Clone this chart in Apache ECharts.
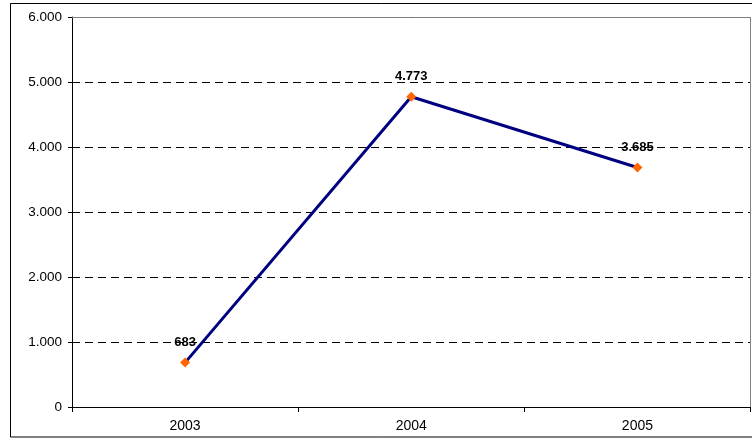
<!DOCTYPE html>
<html>
<head>
<meta charset="utf-8">
<script src="https://cdn.jsdelivr.net/npm/echarts@6/dist/echarts.min.js"></script>
<style>
  html, body { margin: 0; padding: 0; background: #fff; }
  #chart { width: 752px; height: 441px; }
</style>
</head>
<body>
<div id="chart"></div>
<script>
// Yearly totals
const years = ['2003', '2004', '2005'];
const totals = [683, 4773, 3685];
const yTicks = [0, 1000, 2000, 3000, 4000, 5000, 6000];

// Thousands separator in dotted style: 4773 -> "4.773"
function fmt(v) {
  return String(Math.round(v)).replace(/\B(?=(\d{3})+(?!\d))/g, '.');
}

const chart = echarts.init(document.getElementById('chart'), null, { renderer: 'canvas' });
const font = 'Liberation Sans, Arial, sans-serif';

chart.setOption({
  animation: false,
  backgroundColor: '#ffffff',
  graphic: [
    {
      type: 'rect',
      shape: { x: 10.5, y: 3.5, width: 760, height: 433.5 },
      style: { fill: 'none', stroke: '#000', lineWidth: 1 },
      silent: true,
      z: -1
    },
    {
      // plot frame: top and right edges
      type: 'polyline',
      shape: { points: [[72, 17.5], [750.5, 17.5], [750.5, 407]] },
      style: { stroke: '#808080', lineWidth: 1, fill: 'none' },
      silent: true,
      z: 100
    }
  ],
  grid: { left: 72, top: 17, width: 678.5, height: 390, containLabel: false },
  xAxis: {
    type: 'category',
    data: years,
    boundaryGap: true,
    axisLine: { show: true, lineStyle: { color: '#000', width: 1 } },
    axisTick: { show: true, length: 5, interval: 0, alignWithLabel: false, lineStyle: { color: '#000' } },
    axisLabel: { color: '#000', fontFamily: font, fontSize: 14, margin: 12 },
    splitLine: { show: false }
  },
  yAxis: {
    type: 'value',
    min: yTicks[0],
    max: yTicks[yTicks.length - 1],
    interval: 1000,
    axisLine: { show: true, lineStyle: { color: '#000', width: 1 } },
    axisTick: { show: true, length: 4, lineStyle: { color: '#000' } },
    axisLabel: { color: '#000', fontFamily: font, fontSize: 13.5, margin: 10, formatter: fmt },
    splitLine: {
      show: true,
      lineStyle: { color: '#000', width: 1, type: [8, 5] }
    }
  },
  series: [{
    type: 'line',
    data: totals,
    symbol: 'diamond',
    symbolSize: 10,
    showAllSymbol: true,
    lineStyle: { color: '#000080', width: 3 },
    itemStyle: { color: '#FF6600' },
    z: 3,
    label: {
      show: true,
      position: 'top',
      distance: 9,
      color: '#000',
      fontFamily: font,
      fontSize: 13,
      fontWeight: 'bold',
      formatter: p => fmt(p.value)
    }
  }]
});
</script>
</body>
</html>
